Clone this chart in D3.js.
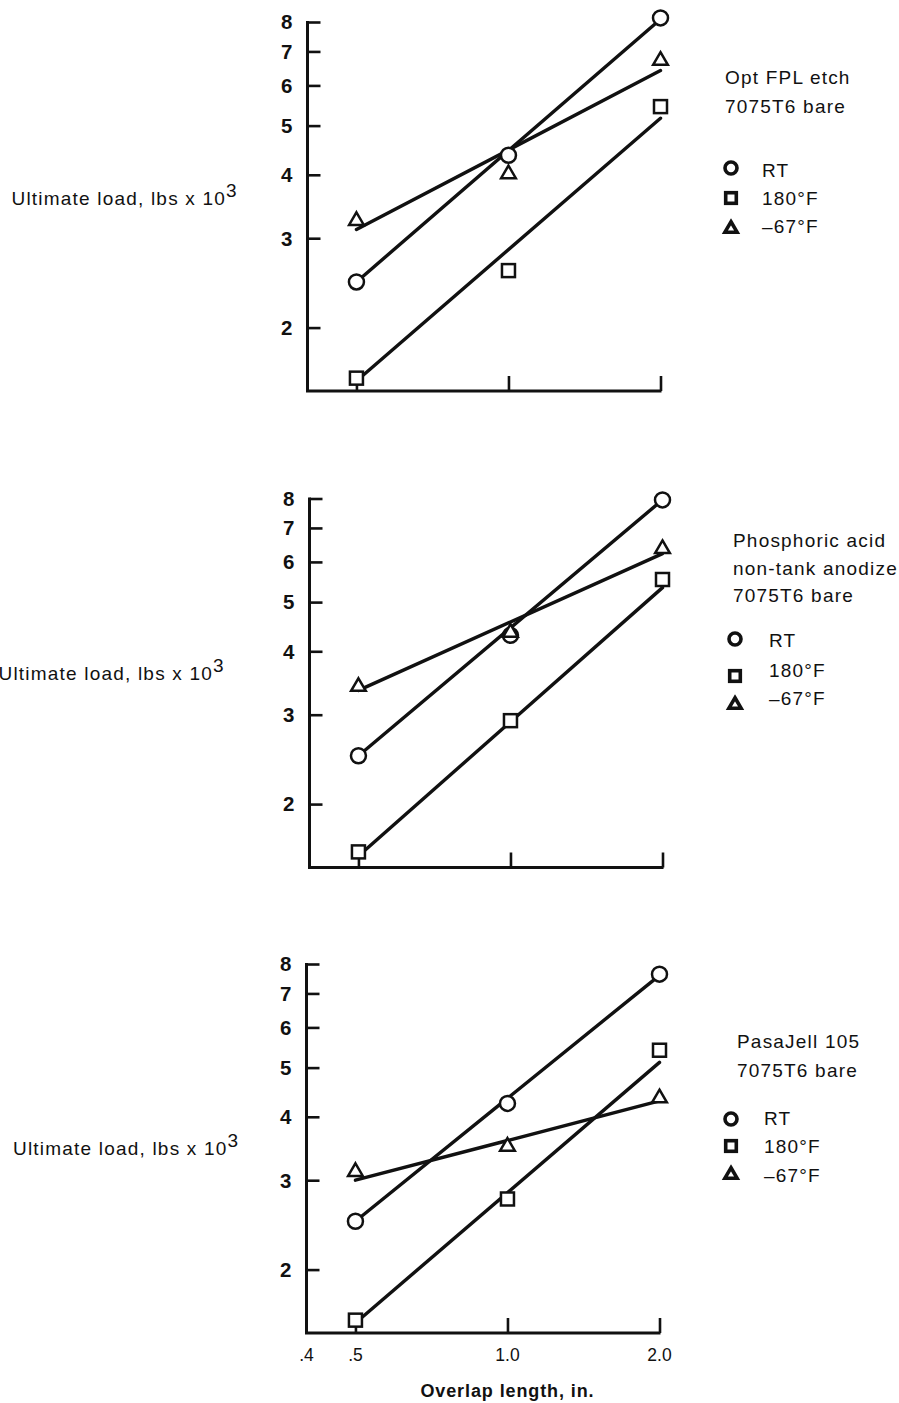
<!DOCTYPE html>
<html><head><meta charset="utf-8">
<script src="https://cdn.jsdelivr.net/npm/d3@7"></script>
<style>body{margin:0;background:#fff;overflow:hidden}</style>
</head><body>
<script>
// ---------- data ----------
const overlapX = [0.5, 1.0, 2.0];
const fitX = [0.5, 2.0];
const xTickValues = [0.4, 0.5, 1.0, 2.0];
const xTickLabels = [".4", ".5", "1.0", "2.0"];
const yTickValues = [2, 3, 4, 5, 6, 7, 8];
const seriesNames = ["RT", "180°F", "–67°F"];
const yLabelText = "Ultimate load, lbs x 10";
const yLabelSup = "3";
const xTitle = "Overlap length, in.";

const fplTitle = ["Opt FPL etch", "7075T6 bare"];
const fplRT   = [2.46, 4.37, 8.15];
const fplHot  = [1.59, 2.59, 5.45];
const fplCold = [3.26, 4.03, 6.74];
const fplRTFit   = [2.46, 8.1];
const fplHotFit  = [1.57, 5.17];
const fplColdFit = [3.12, 6.42];

const phosTitle = ["Phosphoric acid", "non-tank anodize", "7075T6 bare"];
const phosRT   = [2.49, 4.30, 7.95];
const phosHot  = [1.61, 2.92, 5.54];
const phosCold = [3.42, 4.37, 6.39];
const phosRTFit   = [2.49, 7.95];
const phosHotFit  = [1.58, 5.34];
const phosColdFit = [3.35, 6.23];

const pasaTitle = ["PasaJell 105", "7075T6 bare"];
const pasaRT   = [2.49, 4.25, 7.64];
const pasaHot  = [1.59, 2.755, 5.41];
const pasaCold = [3.13, 3.51, 4.37];
const pasaRTFit   = [2.49, 7.6];
const pasaHotFit  = [1.57, 5.12];
const pasaColdFit = [3.0, 4.3];

// ---------- layout ----------
const W = 899, H = 1403;
const panels = [
  { title: fplTitle, pts: [fplRT, fplHot, fplCold], fits: [fplRTFit, fplHotFit, fplColdFit],
    left: 307.5, top: 22, yLab: {x: 11.5, y: 205},
    leg: {tx: 725, tBase: [84, 113], sx: 731, txx: 762, rows: [177, 205, 233], sy: [168, 198, 228]} },
  { title: phosTitle, pts: [phosRT, phosHot, phosCold], fits: [phosRTFit, phosHotFit, phosColdFit],
    left: 309.5, top: 498.5, yLab: {x: -1.5, y: 680},
    leg: {tx: 733, tBase: [547, 575, 602], sx: 735, txx: 769, rows: [647, 677, 705], sy: [639, 676, 704]} },
  { title: pasaTitle, pts: [pasaRT, pasaHot, pasaCold], fits: [pasaRTFit, pasaHotFit, pasaColdFit],
    left: 306.5, top: 964, yLab: {x: 13, y: 1155}, xLabels: true,
    leg: {tx: 737, tBase: [1048, 1077], sx: 731, txx: 764, rows: [1125, 1153, 1182], sy: [1119, 1146, 1174]} }
];
const plotW = 353, plotH = 369;
const FONT = "'Liberation Sans', Arial, sans-serif";
const TXT = 19, LS = 1.2;

const svg = d3.select("body").append("svg").attr("width", W).attr("height", H)
  .style("font-family", FONT);

function marker(g, kind, x, y, size, sw) {
  if (kind === 0) {
    g.append("circle").attr("cx", x).attr("cy", y).attr("r", size)
      .attr("fill", "#fff").attr("stroke", "#111").attr("stroke-width", sw);
  } else if (kind === 1) {
    g.append("rect").attr("x", x - size).attr("y", y - size).attr("width", 2 * size).attr("height", 2 * size)
      .attr("fill", "#fff").attr("stroke", "#111").attr("stroke-width", sw);
  } else {
    const h = size * 1.8;
    g.append("path")
      .attr("d", `M${x},${y - h * 0.6}L${x + size * 1.05},${y + h * 0.4}L${x - size * 1.05},${y + h * 0.4}Z`)
      .attr("fill", "#fff").attr("stroke", "#111").attr("stroke-width", sw).attr("stroke-linejoin", "miter");
  }
}

panels.forEach(p => {
  const x = d3.scaleLog().domain([0.4, 2.0]).range([p.left, p.left + plotW]);
  const y = d3.scaleLog().domain([1.5, 8]).range([p.top + plotH, p.top]);
  const g = svg.append("g");

  // y axis (ticks pointing inward)
  const yAxis = d3.axisRight(y).tickValues(yTickValues).tickSize(13).tickFormat("");
  const ya = g.append("g").attr("transform", `translate(${p.left},0)`).call(yAxis);
  ya.select(".domain").attr("d", `M0,${y(8) - 1}V${p.top + plotH}`).attr("stroke", "#111").attr("stroke-width", 3);
  ya.selectAll(".tick line").attr("stroke", "#111").attr("stroke-width", 2.6);
  g.selectAll(".ylab").data(yTickValues).enter().append("text")
    .attr("x", p.left - 15).attr("y", d => y(d)).attr("dy", "0.36em")
    .attr("text-anchor", "end").attr("font-size", 20.5).attr("font-weight", "bold").attr("fill", "#111")
    .text(d => d);

  // x axis (ticks pointing up)
  const xAxis = d3.axisTop(x).tickValues(overlapX).tickSize(15).tickFormat("");
  const xa = g.append("g").attr("transform", `translate(0,${p.top + plotH})`).call(xAxis);
  xa.select(".domain").attr("d", `M${p.left - 1.5},0H${x(2.0) + 1}`).attr("stroke", "#111").attr("stroke-width", 3);
  xa.selectAll(".tick line").attr("stroke", "#111").attr("stroke-width", 2.6);
  if (p.xLabels) {
    g.selectAll(".xlab").data(xTickValues).enter().append("text")
      .attr("x", d => x(d)).attr("y", p.top + plotH + 28)
      .attr("text-anchor", "middle").attr("font-size", 17.5).attr("fill", "#111")
      .text((d, i) => xTickLabels[i]);
    g.append("text").attr("x", x(1.0)).attr("y", p.top + plotH + 64)
      .attr("text-anchor", "middle").attr("font-size", 18).attr("font-weight", "bold")
      .attr("letter-spacing", 0.9).attr("fill", "#111").text(xTitle);
  }

  // y axis label
  const yl = g.append("text").attr("x", p.yLab.x).attr("y", p.yLab.y)
    .attr("font-size", TXT).attr("letter-spacing", LS).attr("fill", "#111");
  yl.append("tspan").text(yLabelText);
  yl.append("tspan").attr("dy", -8).text(yLabelSup);

  // fit lines
  const line = d3.line().x(d => x(d[0])).y(d => y(d[1]));
  p.fits.forEach(f => {
    g.append("path").datum(fitX.map((xv, i) => [xv, f[i]]))
      .attr("d", line).attr("fill", "none").attr("stroke", "#111").attr("stroke-width", 3.4)
      .attr("stroke-linecap", "round");
  });
  // markers
  p.pts.forEach((vals, k) => {
    vals.forEach((v, i) => {
      const size = k === 0 ? 7.5 : (k === 1 ? 6.5 : 7);
      marker(g, k, x(overlapX[i]), y(v), size, 2.5);
    });
  });

  // legend
  p.title.forEach((t, i) => {
    g.append("text").attr("x", p.leg.tx).attr("y", p.leg.tBase[i])
      .attr("font-size", TXT).attr("letter-spacing", LS).attr("fill", "#111").text(t);
  });
  seriesNames.forEach((s, k) => {
    const size = k === 0 ? 6 : (k === 1 ? 5.3 : 5.8);
    marker(g, k, p.leg.sx, p.leg.sy[k], size, 3.6);
    g.append("text").attr("x", p.leg.txx).attr("y", p.leg.rows[k])
      .attr("font-size", TXT).attr("letter-spacing", LS).attr("fill", "#111").text(s);
  });
});
</script>
</body></html>
